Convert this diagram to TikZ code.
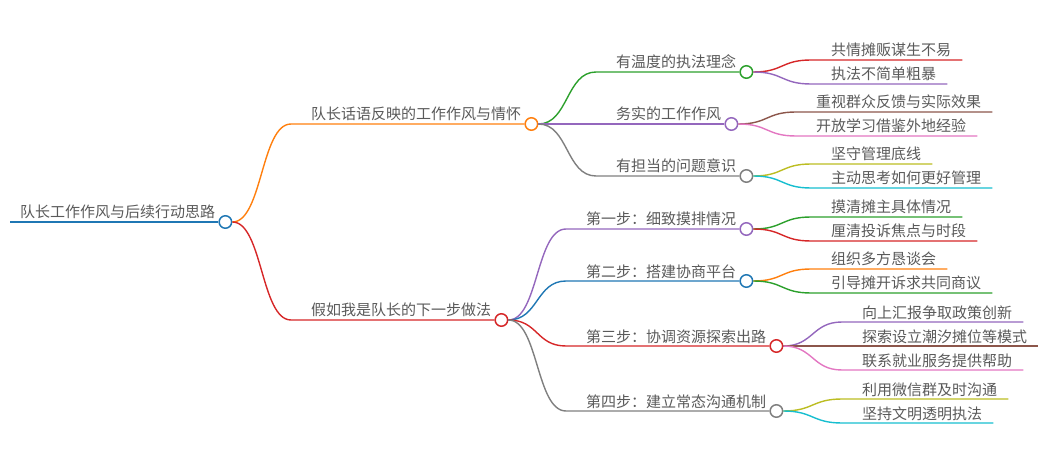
\documentclass[tikz,border=0pt]{standalone}
\usepackage{fontspec}
\newfontfamily\cjk{Noto Sans CJK SC}
\usetikzlibrary{calc}
\definecolor{blu}{RGB}{31,119,180}
\definecolor{arancio}{RGB}{255,127,14}
\definecolor{verde}{RGB}{44,160,44}
\definecolor{rosso}{RGB}{214,39,40}
\definecolor{viola}{RGB}{148,103,189}
\definecolor{marrone}{RGB}{140,86,75}
\definecolor{rosa}{RGB}{227,119,194}
\definecolor{grigio}{RGB}{127,127,127}
\definecolor{oliva}{RGB}{188,189,34}
\definecolor{ciano}{RGB}{23,190,207}
\definecolor{scritta}{RGB}{90,90,90}
\tikzset{
  ramo/.style={line width=1.4pt, draw=#1},
  nodo/.style={circle, draw=#1, fill=white, line width=1.5pt, minimum size=12.5pt, inner sep=0pt},
  testo/.style={anchor=base west, inner sep=0pt, text=scritta, font=\cjk\fontsize{15pt}{15pt}\selectfont}
}
\begin{document}
\begin{tikzpicture}[x=1pt, y=-1pt]
    \useasboundingbox (0,0) rectangle (1057,462);
    % Radice
    \node[testo] (r) at (20,218) {队长工作作风与后续行动思路};
    \coordinate (r0) at (10,222);
    \node[nodo=blu] (c-r) at ($(r.base east)+(10,4)$) {};
    \draw[ramo=blu] (r0) -- (c-r.west);
    % Rami con cerchio
    \foreach \n/\p/\x/\y/\c/\tx in {
      a/r/311/124/arancio/队长话语反映的工作作风与情怀,
      b/r/311/320/rosso/假如我是队长的下一步做法,
      a1/a/616/72/verde/有温度的执法理念,
      a2/a/616/124/viola/务实的工作作风,
      a3/a/616/176/grigio/有担当的问题意识,
      b1/b/586/229/viola/第一步：细致摸排情况,
      b2/b/586/281/blu/第二步：搭建协商平台,
      b3/b/586/346/rosso/第三步：协调资源探索出路,
      b4/b/586/411/grigio/第四步：建立常态沟通机制} {
      \node[testo] (\n) at (\x,\y-4) {\tx};
      \node[nodo=\c] (c-\n) at ($(\n.base east)+(10,4)$) {};
      \draw[ramo=\c] (c-\p.east) .. controls +(30,0) and +(-30,0) .. (\x-20,\y) -- (c-\n.west);
    }
    % Foglie
    \foreach \p/\x/\y/\c/\tx in {
      a1/831/60/rosso/共情摊贩谋生不易,
      a1/831/84/viola/执法不简单粗暴,
      a2/816/112/marrone/重视群众反馈与实际效果,
      a2/816/136/rosa/开放学习借鉴外地经验,
      a3/831/164/oliva/坚守管理底线,
      a3/831/188/ciano/主动思考如何更好管理,
      b1/831/217/verde/摸清摊主具体情况,
      b1/831/241/rosso/厘清投诉焦点与时段,
      b2/831/269/arancio/组织多方恳谈会,
      b2/831/293/verde/引导摊开诉求共同商议,
      b3/862/322/viola/向上汇报争取政策创新,
      b3/862/346/marrone/探索设立潮汐摊位等模式,
      b3/862/370/rosa/联系就业服务提供帮助,
      b4/862/399/oliva/利用微信群及时沟通,
      b4/862/423/ciano/坚持文明透明执法} {
      \node[testo] (f\y) at (\x,\y-4) {\tx};
      \draw[ramo=\c] (c-\p.east) .. controls +(30,0) and +(-30,0) .. (\x-20,\y) -- ($(f\y.base east)+(11,4)$);
    }
  \end{tikzpicture}
\end{document}
